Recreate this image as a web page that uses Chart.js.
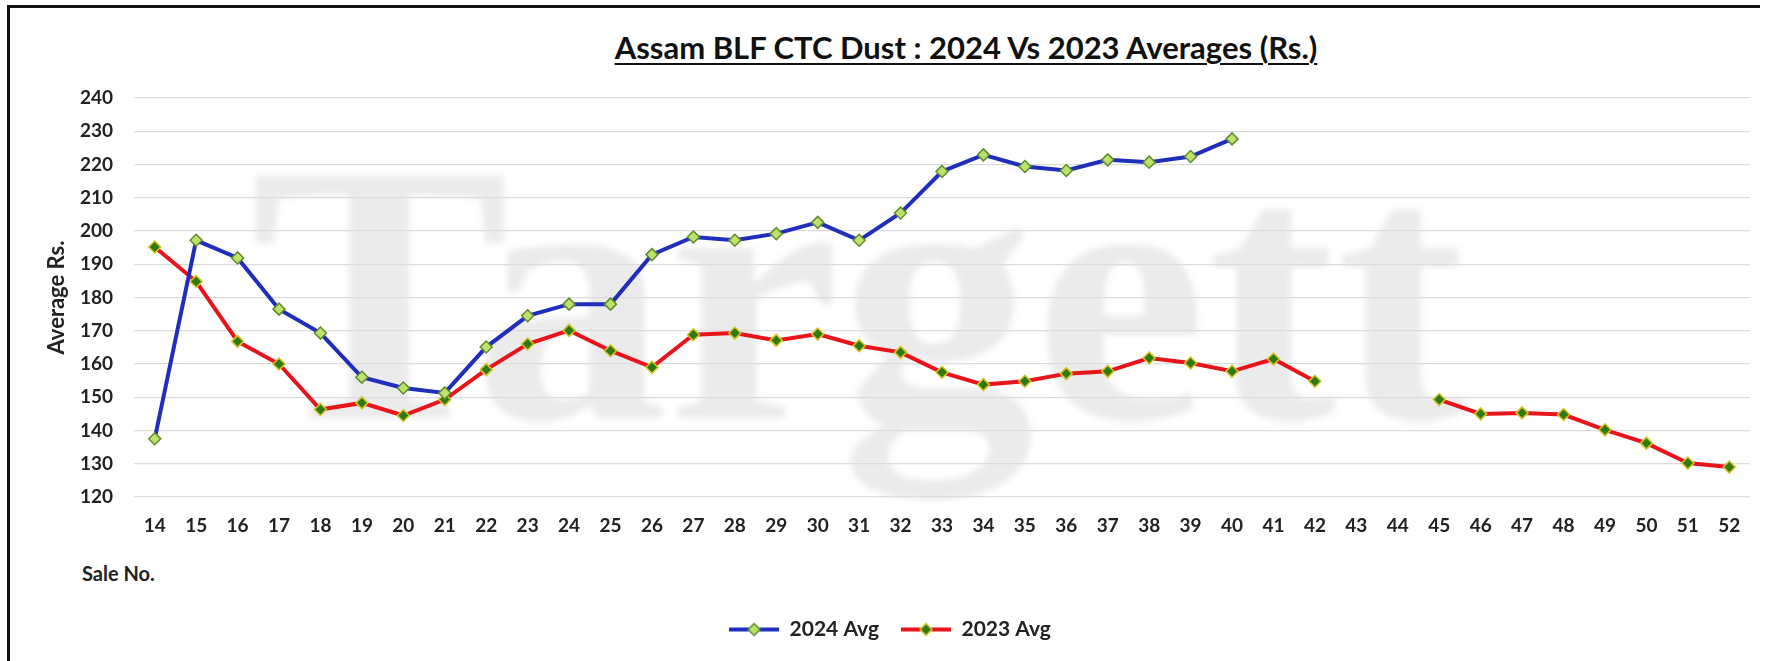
<!DOCTYPE html>
<html>
<head>
<meta charset="utf-8">
<script src="https://cdn.jsdelivr.net/npm/chart.js@4"></script>
<style>
  html, body { margin: 0; padding: 0; background: #fff; }
  #wrap { position: relative; width: 1765px; height: 661px; overflow: hidden; }
  #frame { position: absolute; left: 7px; top: 5px; width: 1750px; height: 700px;
           border-left: 3px solid #111; border-top: 3px solid #111; }
  #mark { position: absolute; left: 250px; top: 80px; font: bold 370px "Liberation Serif", serif;
          color: #ebebeb; filter: blur(3px); white-space: nowrap;
          transform: scaleX(1.05); transform-origin: left top; }
  #title { position: absolute; left: 0; width: 1932px; top: 28px; text-align: center;
           font: bold 31px Lato, sans-serif; color: #111; text-decoration: underline;
           text-decoration-thickness: 2px; text-underline-offset: 4px; }
  #xtitle { position: absolute; left: 82px; top: 561px; font: bold 20px Lato, sans-serif; color: #222; }
  canvas { position: absolute; left: 0; top: 0; }
</style>
</head>
<body>
<div id="wrap">
  <div id="mark">Targett</div>
  <div id="frame"></div>
  <div id="title">Assam BLF CTC Dust : 2024 Vs 2023 Averages (Rs.)</div>
  <div id="xtitle">Sale No.</div>
  <canvas id="chart" width="1765" height="661"></canvas>
</div>
<script>
const saleNos = ['14', '15', '16', '17', '18', '19', '20', '21', '22', '23', '24', '25', '26',
  '27', '28', '29', '30', '31', '32', '33', '34', '35', '36', '37', '38', '39', '40',
  '41', '42', '43', '44', '45', '46', '47', '48', '49', '50', '51', '52'];

const avg2024 = [137.5, 197.2, 191.9, 176.5, 169.3, 156, 152.8, 151.3, 165.1, 174.5, 178, 178,
  192.9, 198.2, 197.2, 199.2, 202.6, 197.2, 205.4, 217.9, 222.9, 219.4, 218.2, 221.4, 220.7,
  222.4, 227.7, null, null, null, null, null, null, null, null, null, null, null, null];

const avg2023 = [195.2, 184.8, 166.8, 160, 146.3, 148.3, 144.5, 149.3, 158.3, 166, 170.1, 164,
  159, 168.8, 169.3, 167.1, 169, 165.5, 163.5, 157.5, 153.8, 154.8, 157.1, 157.8, 161.8,
  160.3, 157.8, 161.5, 154.8, null, null, 149.3, 145, 145.3, 144.8, 140.2, 136.2, 130.2, 129];

const yTicks = { min: 120, max: 240, step: 10 };

// little line + diamond picture for the legend
function legendIcon(line, fill, edge) {
  const c = document.createElement('canvas');
  c.width = 50;
  c.height = 16;
  const g = c.getContext('2d');
  g.strokeStyle = line;
  g.lineWidth = 4;
  g.beginPath();
  g.moveTo(0, 8);
  g.lineTo(50, 8);
  g.stroke();
  g.beginPath();
  g.moveTo(25, 2);
  g.lineTo(31, 8);
  g.lineTo(25, 14);
  g.lineTo(19, 8);
  g.closePath();
  g.fillStyle = fill;
  g.fill();
  g.lineWidth = 1.5;
  g.strokeStyle = edge;
  g.stroke();
  return c;
}

const tickFont = { family: 'Lato, sans-serif', size: 19, weight: 'bold' };

const ctx = document.getElementById('chart').getContext('2d');
const chart = new Chart(ctx, {
  type: 'line',
  data: {
    labels: saleNos,
    datasets: [{
      label: '2024 Avg',
      data: avg2024,
      borderColor: '#1f2fbc',
      borderWidth: 4,
      pointStyle: 'rectRot',
      pointRadius: 6,
      pointBackgroundColor: '#bde26c',
      pointBorderColor: '#5f8c2c',
      pointBorderWidth: 1.5,
      tension: 0,
      spanGaps: false
    }, {
      label: '2023 Avg',
      data: avg2023,
      borderColor: '#e8141c',
      borderWidth: 4,
      pointStyle: 'rectRot',
      pointRadius: 6,
      pointBackgroundColor: '#2f7a14',
      pointBorderColor: '#d8c424',
      pointBorderWidth: 1.5,
      tension: 0,
      spanGaps: false
    }]
  },
  options: {
    responsive: false,
    animation: false,
    layout: { padding: { left: 30, right: 15, top: 98, bottom: 11 } },
    scales: {
      x: {
        offset: true,
        grid: { display: false },
        border: { display: false },
        ticks: { color: '#222', font: tickFont, padding: 9, maxRotation: 0, autoSkip: false },
        afterFit: (scale) => { scale.height = 100; }
      },
      y: {
        min: yTicks.min,
        max: yTicks.max,
        grid: { color: '#dcdcdc', lineWidth: 1.3, drawTicks: false },
        border: { display: false },
        ticks: { stepSize: yTicks.step, color: '#222', font: tickFont, padding: 21 },
        title: {
          display: true,
          text: 'Average Rs.',
          color: '#222',
          font: { family: 'Lato, sans-serif', size: 22, weight: 'bold' },
          padding: { top: 14, bottom: 0 }
        },
        afterFit: (scale) => { scale.width = 104; }
      }
    },
    plugins: {
      legend: {
        position: 'bottom',
        labels: {
          usePointStyle: true,
          pointStyleWidth: 50,
          padding: 22,
          color: '#222',
          font: { family: 'Lato, sans-serif', size: 21, weight: 'bold' },
          generateLabels: (ch) => {
            const items = Chart.defaults.plugins.legend.labels.generateLabels(ch);
            items.forEach((it, i) => {
              const ds = ch.data.datasets[i];
              it.pointStyle = legendIcon(ds.borderColor, ds.pointBackgroundColor, ds.pointBorderColor);
            });
            return items;
          }
        }
      },
      tooltip: { enabled: false }
    }
  }
});
</script>
</body>
</html>
